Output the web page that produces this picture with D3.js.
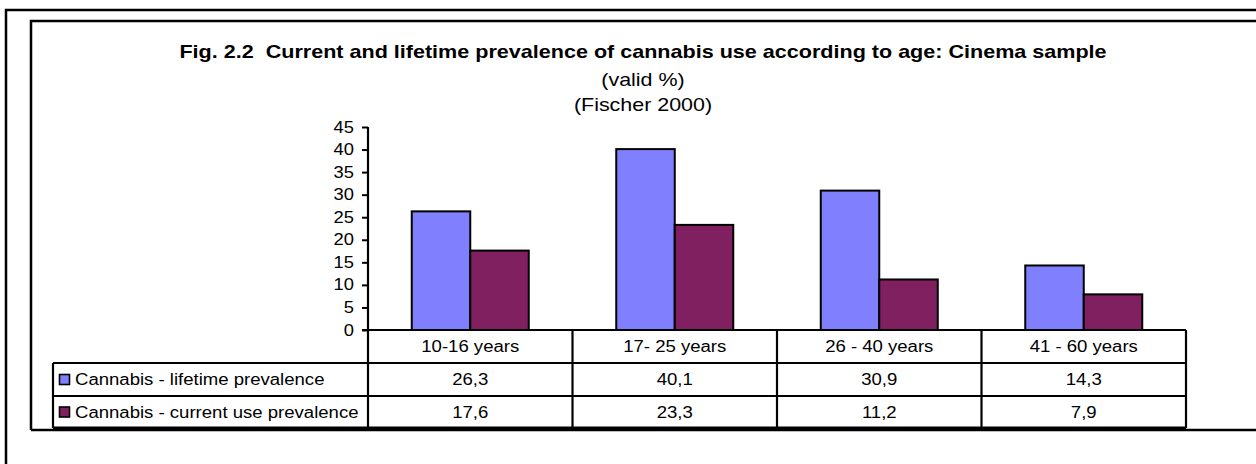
<!DOCTYPE html>
<html>
<head>
<meta charset="utf-8">
<script src="https://cdn.jsdelivr.net/npm/d3@7"></script>
<style>
  html, body { margin: 0; padding: 0; background: #fff; }
  svg { display: block; }
  text { font-family: "Liberation Sans", Arial, sans-serif; fill: #000; white-space: pre; }
</style>
</head>
<body>
<svg id="chart" width="1256" height="464"></svg>
<script>
// Age groups and prevalence values (valid %)
const categories = ["10-16 years", "17- 25 years", "26 - 40 years", "41 - 60 years"];
const seriesNames = ["Cannabis - lifetime prevalence", "Cannabis - current use prevalence"];
const lifetime = [26.3, 40.1, 30.9, 14.3];
const currentUse = [17.6, 23.3, 11.2, 7.9];
const valueLabels = [["26,3", "40,1", "30,9", "14,3"], ["17,6", "23,3", "11,2", "7,9"]];
const yTicks = [0, 5, 10, 15, 20, 25, 30, 35, 40, 45];
const colors = ["#8080ff", "#802060"];

const series = [lifetime, currentUse];
const svg = d3.select("#chart");
const SX = 1.16; // horizontal text stretch

function stretchedText(sel, x, y, str, size, anchor, weight) {
  return sel.append("text")
    .attr("transform", `translate(${x},${y}) scale(${SX},1)`)
    .attr("text-anchor", anchor || "middle")
    .attr("font-size", size)
    .attr("font-weight", weight || "normal")
    .text(str);
}

// frames
svg.append("path").attr("d", "M6,470 V10 H1270").attr("fill", "none")
  .attr("stroke", "#000").attr("stroke-width", 2.5);
svg.append("path").attr("d", "M31,430 V21 H1270 M31,430 H1270").attr("fill", "none")
  .attr("stroke", "#000").attr("stroke-width", 2.5);

// titles
stretchedText(svg, 643, 58, "Fig. 2.2  Current and lifetime prevalence of cannabis use according to age: Cinema sample", 18.6, "middle", "bold");
stretchedText(svg, 643, 86, "(valid %)", 18.5);
stretchedText(svg, 643, 111, "(Fischer 2000)", 18.5);

// scales
const plotLeft = 368, plotRight = 1186;
const y = d3.scaleLinear().domain([0, 45]).range([330, 127]);
const x = d3.scaleBand().domain(categories).range([plotLeft, plotRight]).padding(0);
const groupW = 117;
const xs = d3.scaleBand().domain(d3.range(series.length))
  .range([(x.bandwidth() - groupW) / 2, (x.bandwidth() + groupW) / 2]).padding(0);

// bars
series.forEach((vals, si) => {
  svg.append("g").selectAll("rect").data(vals).join("rect")
    .attr("x", (d, i) => x(categories[i]) + xs(si))
    .attr("y", d => y(d))
    .attr("width", xs.bandwidth())
    .attr("height", d => y(0) - y(d))
    .attr("fill", colors[si])
    .attr("stroke", "#000")
    .attr("stroke-width", 2);
});

// y axis
const yAxis = d3.axisLeft(y).tickValues(yTicks).tickSize(6).tickPadding(8).tickFormat(d3.format("d"));
const ya = svg.append("g").attr("transform", `translate(${plotLeft},0)`).call(yAxis);
ya.select(".domain").remove();
ya.selectAll(".tick line").attr("stroke", "#000").attr("stroke-width", 2);
ya.selectAll(".tick text").remove();
yTicks.forEach(t => {
  stretchedText(svg, plotLeft - 14, y(t) + 5.5, String(t), 15.8, "end");
});
svg.append("line").attr("x1", plotLeft).attr("x2", plotLeft)
  .attr("y1", y(45)).attr("y2", 330).attr("stroke", "#000").attr("stroke-width", 2.2);

// data table
const rowTops = [330, 363, 396, 428];
const tableLeft = 53;
const tbl = svg.append("g").attr("stroke", "#000").attr("stroke-width", 2.2).attr("fill", "none");
// horizontal lines
tbl.append("line").attr("x1", plotLeft - 6).attr("x2", plotRight).attr("y1", rowTops[0]).attr("y2", rowTops[0]);
rowTops.slice(1).forEach((ry, i) => {
  tbl.append("line").attr("x1", tableLeft).attr("x2", plotRight).attr("y1", ry).attr("y2", ry)
    .attr("stroke-width", i === 2 ? 3 : 2.2);
});
// vertical lines
tbl.append("line").attr("x1", tableLeft).attr("x2", tableLeft).attr("y1", rowTops[1]).attr("y2", rowTops[3]);
categories.forEach(c => {
  tbl.append("line").attr("x1", x(c)).attr("x2", x(c)).attr("y1", rowTops[0]).attr("y2", rowTops[3]);
});
tbl.append("line").attr("x1", plotRight).attr("x2", plotRight).attr("y1", rowTops[0]).attr("y2", rowTops[3]);

// header cells
categories.forEach(c => {
  stretchedText(svg, x(c) + x.bandwidth() / 2, (rowTops[0] + rowTops[1]) / 2 + 5.5, c, 16);
});
// series rows
seriesNames.forEach((name, si) => {
  const cy = (rowTops[si + 1] + rowTops[si + 2]) / 2;
  svg.append("rect").attr("x", 59.5).attr("y", cy - 5).attr("width", 10).attr("height", 10)
    .attr("fill", colors[si]).attr("stroke", "#000").attr("stroke-width", 1.6);
  stretchedText(svg, 75, cy + 5.5, name, 16, "start");
  valueLabels[si].forEach((lab, ci) => {
    stretchedText(svg, x(categories[ci]) + x.bandwidth() / 2, cy + 5.5, lab, 16);
  });
});
</script>
</body>
</html>
